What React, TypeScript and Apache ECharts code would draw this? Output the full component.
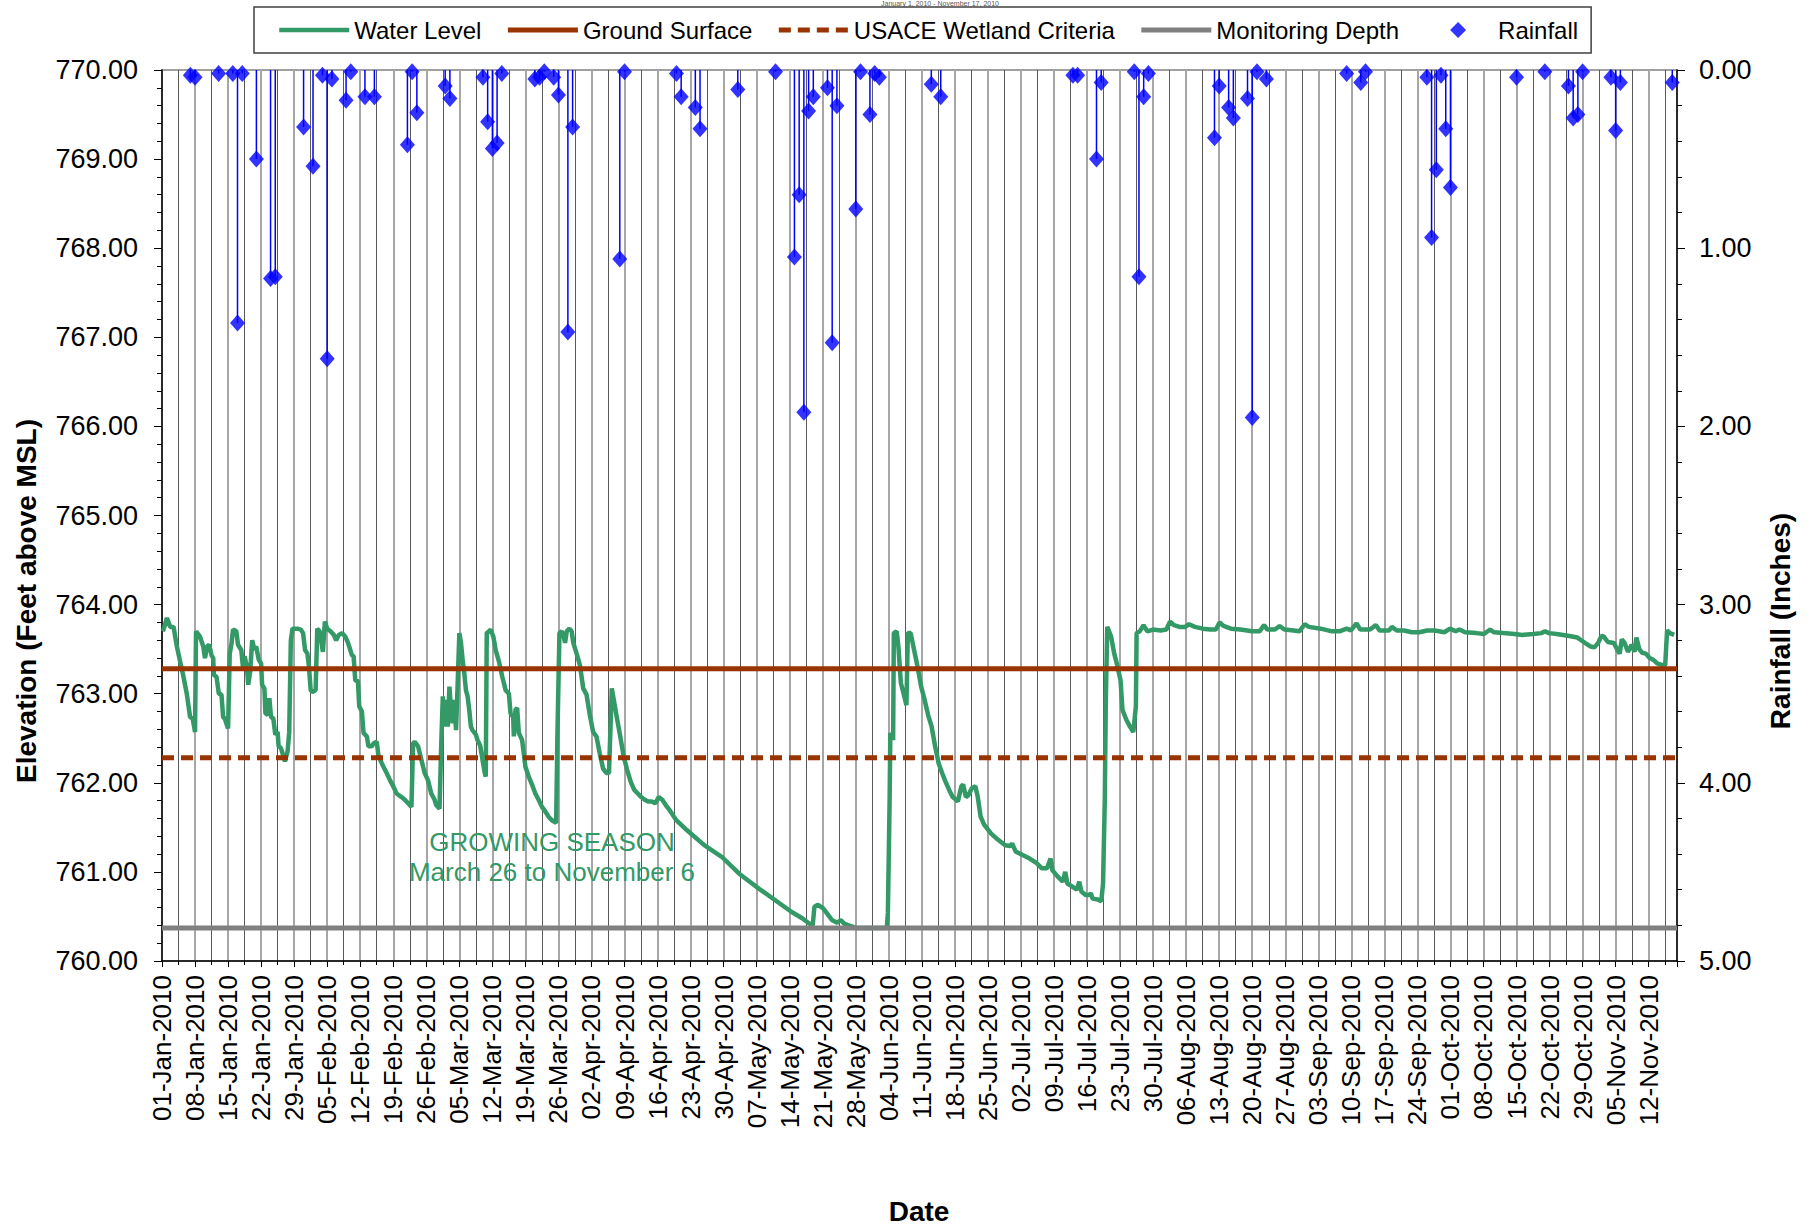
import React, { useEffect, useRef } from 'react';
import * as echarts from 'echarts';

const FONT = '"Liberation Sans", Arial, Helvetica, sans-serif';
const MONTHS = ['Jan', 'Feb', 'Mar', 'Apr', 'May', 'Jun', 'Jul', 'Aug', 'Sep', 'Oct', 'Nov', 'Dec'];
const START_UTC = Date.UTC(2010, 0, 1);
const DAY_MS = 86400000;

// x axis: days since 01-Jan-2010
const xMinDay = 0;
const xMaxDay = 321;
const weekInterval = 7;

const elevMin = 760;
const elevMax = 770;
const rainMin = 0;
const rainMax = 5;

const groundSurface = 763.28;
const usaceCriteria = 762.28;
const monitoringDepth = 760.37;

const titleText = 'January 1, 2010 - November 17, 2010';
const seasonLine1 = 'GROWING SEASON';
const seasonLine2 = 'March 26 to November 6';

// Water level (days since 01-Jan-2010, feet above MSL)
const waterDay = [
  0.2, 1.05, 1.75, 2.45, 3.15, 3.85, 4.55, 5.25, 5.95, 6.51, 7.0, 7.21, 8.05, 8.75, 9.1, 9.59, 10.01, 10.5, 10.85, 10.99,
  11.55, 12.04, 12.6, 12.95, 13.3, 14.0, 14.35, 14.7, 15.05, 15.75, 16.1, 16.8, 17.15, 17.5, 17.99, 18.27, 18.69, 19.11, 19.6, 19.95,
  20.51, 21.0, 21.21, 21.7, 21.91, 22.4, 22.75, 23.1, 23.59, 24.01, 24.5, 24.71, 25.2, 25.55, 26.04, 26.6, 26.95, 27.3, 27.65, 28.7,
  29.4, 29.89, 30.31, 30.8, 31.15, 31.5, 31.85, 32.55, 32.9, 33.39, 33.81, 34.09, 34.51, 35.0, 35.7, 36.4, 36.89, 37.45, 38.15, 38.85,
  39.41, 39.9, 40.25, 40.6, 40.95, 41.51, 41.79, 42.35, 42.7, 43.4, 43.75, 44.45, 44.8, 45.5, 45.85, 46.55, 47.11, 47.6, 48.3, 49.0,
  49.7, 50.75, 51.45, 52.15, 52.85, 53.2, 53.55, 54.25, 54.95, 55.65, 56.35, 57.05, 57.75, 58.1, 58.8, 59.15, 59.5, 59.85, 60.2, 60.55,
  60.9, 61.25, 61.6, 61.95, 62.3, 62.65, 63.0, 63.35, 63.7, 64.05, 64.4, 64.75, 65.1, 65.45, 65.8, 66.5, 66.85, 67.41, 67.9, 68.39,
  68.6, 68.81, 69.3, 69.65, 70.21, 70.7, 71.4, 72.1, 72.8, 73.5, 73.85, 74.41, 74.55, 74.9, 75.25, 75.6, 76.3, 77.0, 77.7, 78.4,
  79.1, 79.8, 80.5, 81.2, 81.9, 82.6, 83.51, 83.79, 84.21, 84.7, 85.05, 85.4, 85.75, 86.31, 86.8, 87.15, 87.85, 88.55, 89.25, 89.95,
  90.65, 91.35, 92.05, 92.75, 93.45, 94.15, 94.71, 95.3, 96.35, 97.09, 97.84, 98.58, 99.32, 100.06, 100.8, 101.54, 102.28, 103.0, 103.77, 104.5,
  105.25, 106.0, 106.73, 107.47, 108.21, 108.96, 111.18, 114.89, 118.59, 122.3, 126.0, 129.71, 133.42, 135.64, 137.12, 137.87, 138.24, 138.98, 140.09, 140.83,
  141.94, 143.05, 143.8, 144.54, 146.02, 147.13, 153.58, 153.8, 154.17, 154.32, 154.91, 155.06, 155.66, 156.03, 156.55, 157.14, 157.73, 158.03, 158.62, 159.36,
  160.1, 160.85, 161.59, 162.33, 163.07, 163.81, 164.55, 165.29, 166.03, 166.78, 167.52, 168.26, 168.63, 169.37, 169.74, 170.33, 170.85, 171.59, 172.34, 172.85,
  173.45, 174.19, 175.67, 177.15, 178.64, 179.75, 180.12, 180.86, 182.34, 183.83, 185.31, 186.42, 187.53, 188.27, 188.64, 189.75, 190.86, 191.38, 191.83, 192.72,
  193.83, 194.35, 194.8, 195.69, 196.43, 196.8, 197.17, 198.28, 199.02, 199.39, 199.76, 199.98, 200.28, 201.1, 201.76, 202.3, 203.1, 203.5, 204.3, 205.1,
  205.8, 206.35, 206.5, 207.16, 207.97, 208.77, 209.98, 211.6, 212.8, 213.6, 214.4, 215.6, 216.8, 217.6, 218.85, 220.5, 222.1, 223.3, 224.1, 224.9,
  226.5, 228.5, 230.95, 232.6, 233.5, 234.2, 235.8, 236.8, 237.8, 239.8, 241.0, 242.1, 243.0, 245.5, 247.9, 249.5, 251.0, 251.9, 253.1, 253.9,
  255.95, 257.2, 257.97, 260.0, 260.6, 261.6, 263.2, 264.8, 266.4, 268.05, 269.66, 271.7, 272.9, 274.1, 274.9, 276.1, 278.5, 280.1, 281.4, 282.2,
  284.2, 286.6, 288.2, 290.6, 292.25, 293.05, 293.85, 295.5, 297.9, 299.9, 300.7, 301.5, 302.7, 303.5, 304.3, 305.0, 305.5, 306.35, 307.6, 308.4,
  308.85, 309.3, 309.9, 310.6, 311.4, 312.0, 312.4, 313.0, 313.6, 314.4, 315.2, 316.0, 316.8, 317.9, 318.5, 318.9, 319.5, 320.4,
];
const waterLevel = [
  763.7, 763.85, 763.75, 763.75, 763.53, 763.36, 763.19, 763.0, 762.74, 762.72, 762.57, 763.7, 763.64, 763.53, 763.4, 763.53, 763.55, 763.43, 763.4, 763.21,
  763.19, 763.0, 762.99, 762.74, 762.72, 762.61, 763.45, 763.55, 763.72, 763.7, 763.55, 763.49, 763.3, 763.42, 763.3, 763.1, 763.25, 763.6, 763.49, 763.53,
  763.38, 763.34, 763.1, 763.06, 762.78, 762.76, 762.95, 762.74, 762.72, 762.54, 762.57, 762.41, 762.39, 762.33, 762.24, 762.35, 762.56, 763.6, 763.73, 763.73,
  763.72, 763.68, 763.49, 763.45, 763.3, 763.04, 763.02, 763.04, 763.73, 763.7, 763.57, 763.47, 763.81, 763.73, 763.7, 763.66, 763.6, 763.66, 763.68, 763.64,
  763.57, 763.49, 763.43, 763.42, 763.15, 763.14, 762.86, 762.8, 762.56, 762.52, 762.41, 762.41, 762.44, 762.46, 762.31, 762.22, 762.16, 762.11, 762.03, 761.96,
  761.88, 761.84, 761.81, 761.77, 761.73, 762.44, 762.46, 762.41, 762.26, 762.11, 762.03, 761.88, 761.81, 761.75, 761.71, 762.41, 762.97, 762.63, 762.93, 762.63,
  763.08, 762.82, 762.67, 762.93, 762.59, 763.12, 763.68, 763.57, 763.38, 763.23, 763.04, 762.97, 762.82, 762.63, 762.59, 762.54, 762.48, 762.42, 762.26, 762.11,
  762.07, 763.68, 763.7, 763.72, 763.64, 763.49, 763.36, 763.19, 763.04, 763.0, 762.78, 762.74, 762.52, 762.82, 762.84, 762.56, 762.48, 762.18, 762.07, 761.98,
  761.88, 761.81, 761.73, 761.68, 761.62, 761.58, 761.55, 762.56, 763.68, 763.7, 763.66, 763.57, 763.7, 763.73, 763.7, 763.57, 763.45, 763.32, 763.06, 762.99,
  762.76, 762.57, 762.52, 762.33, 762.16, 762.11, 762.11, 763.06, 762.74, 762.52, 762.29, 762.14, 762.01, 761.92, 761.88, 761.84, 761.81, 761.79, 761.79, 761.77,
  761.84, 761.81, 761.75, 761.7, 761.64, 761.58, 761.47, 761.3, 761.17, 760.98, 760.83, 760.69, 760.55, 760.48, 760.42, 760.4, 760.61, 760.63, 760.59, 760.54,
  760.46, 760.43, 760.46, 760.42, 760.39, 760.37, 760.37, 760.54, 761.81, 762.56, 762.48, 763.68, 763.7, 763.53, 763.12, 763.0, 762.87, 763.68, 763.68, 763.49,
  763.3, 763.08, 762.93, 762.76, 762.63, 762.41, 762.22, 762.11, 762.01, 761.92, 761.84, 761.81, 761.79, 761.96, 761.98, 761.84, 761.86, 761.94, 761.96, 761.84,
  761.62, 761.53, 761.43, 761.36, 761.3, 761.29, 761.32, 761.23, 761.19, 761.15, 761.1, 761.04, 761.04, 761.15, 761.02, 760.95, 760.89, 761.0, 760.87, 760.84,
  760.8, 760.89, 760.78, 760.74, 760.74, 760.76, 760.7, 760.69, 760.67, 760.87, 761.81, 762.93, 763.75, 763.64, 763.45, 763.34, 763.15, 762.82, 762.71, 762.63,
  762.57, 762.86, 763.68, 763.7, 763.77, 763.7, 763.72, 763.71, 763.72, 763.81, 763.77, 763.75, 763.75, 763.78, 763.75, 763.73, 763.72, 763.72, 763.8, 763.76,
  763.73, 763.72, 763.7, 763.7, 763.77, 763.72, 763.72, 763.76, 763.72, 763.71, 763.7, 763.78, 763.75, 763.73, 763.7, 763.7, 763.73, 763.71, 763.79, 763.72,
  763.72, 763.77, 763.71, 763.71, 763.75, 763.71, 763.71, 763.69, 763.69, 763.71, 763.71, 763.69, 763.73, 763.7, 763.72, 763.69, 763.68, 763.67, 763.72, 763.69,
  763.68, 763.67, 763.66, 763.67, 763.68, 763.7, 763.68, 763.67, 763.65, 763.63, 763.6, 763.57, 763.53, 763.52, 763.57, 763.65, 763.64, 763.58, 763.57, 763.49,
  763.45, 763.61, 763.57, 763.47, 763.55, 763.47, 763.63, 763.5, 763.46, 763.45, 763.4, 763.38, 763.34, 763.32, 763.32, 763.71, 763.68, 763.66,
];

// Daily rainfall (days since 01-Jan-2010, inches)
const rainDay = [
  6, 7, 12, 15, 16, 17, 20, 23, 24, 30, 32, 34, 35, 36, 39, 40, 43, 45, 52, 53,
  54, 60, 61, 68, 69, 70, 71, 72, 79, 80, 81, 83, 84, 86, 87, 97, 98, 109, 110, 113,
  114, 122, 130, 134, 135, 136, 137, 138, 141, 142, 143, 147, 148, 150, 151, 152, 163, 165, 193, 194,
  198, 199, 206, 207, 208, 209, 223, 224, 226, 227, 230, 231, 232, 234, 251, 254, 255, 268, 269, 270,
  271, 272, 273, 287, 293, 298, 299, 300, 301, 307, 308, 309, 320,
];
const rainInches = [
  0.03, 0.04, 0.02, 0.02, 1.42, 0.02, 0.5, 1.17, 1.16, 0.32, 0.54, 0.03, 1.62, 0.05, 0.17, 0.01, 0.15, 0.15, 0.42, 0.01,
  0.24, 0.09, 0.16, 0.04, 0.29, 0.44, 0.41, 0.02, 0.05, 0.04, 0.01, 0.04, 0.14, 1.47, 0.32, 1.06, 0.01, 0.02, 0.15, 0.21,
  0.33, 0.11, 0.01, 1.05, 0.7, 1.92, 0.23, 0.15, 0.1, 1.53, 0.2, 0.78, 0.01, 0.25, 0.02, 0.04, 0.08, 0.15, 0.03, 0.03,
  0.5, 0.07, 0.01, 1.16, 0.15, 0.02, 0.38, 0.09, 0.21, 0.27, 0.16, 1.95, 0.01, 0.05, 0.02, 0.07, 0.01, 0.04, 0.94, 0.56,
  0.03, 0.33, 0.66, 0.04, 0.01, 0.09, 0.27, 0.25, 0.01, 0.04, 0.34, 0.07, 0.07,
];

function fmtDate(day: number): string {
  const dt = new Date(START_UTC + Math.round(day) * DAY_MS);
  const dd = String(dt.getUTCDate()).padStart(2, '0');
  return `${dd}-${MONTHS[dt.getUTCMonth()]}-${dt.getUTCFullYear()}`;
}

// Legend key for the marker-only series: a diamond centred in a full-width key.
const DIAMOND_KEY = 'path://M0,8 L0.01,8 Z M27,8 L35,0 L43,8 L35,16 Z M69.99,8 L70,8 Z';

function buildOption(): any {
  const waterData = waterDay.map((d, i) => [d, waterLevel[i]]);
  const rainData = rainDay.map((d, i) => [d, rainInches[i]]);
  const flat = (v: number) => [[xMinDay, v], [xMaxDay, v]];
  const lineOnly = { itemStyle: { opacity: 0 } };

  return {
    animation: false,
    backgroundColor: '#ffffff',
    textStyle: { fontFamily: FONT },
    grid: {
      left: 162, right: 135, top: 70, bottom: 266,
      show: true, borderColor: '#a0a0a0', borderWidth: 2, backgroundColor: 'transparent',
    },
    legend: {
      data: [
        { name: 'Water Level', ...lineOnly },
        { name: 'Ground Surface', ...lineOnly },
        { name: 'USACE Wetland Criteria', ...lineOnly },
        { name: 'Monitoring Depth', ...lineOnly },
        { name: 'Rainfall', icon: DIAMOND_KEY },
      ],
      left: 254, top: 7,
      padding: [11, 13, 11, 23],
      itemWidth: 70, itemHeight: 16, itemGap: 24,
      backgroundColor: '#ffffff', borderColor: '#404040', borderWidth: 1.5,
      textStyle: { fontSize: 24, color: '#000', fontFamily: FONT },
      lineStyle: { width: 'inherit' },
      selectedMode: false,
      z: 20,
    },
    xAxis: {
      type: 'value', min: xMinDay, max: xMaxDay, interval: weekInterval,
      axisLine: { show: true, onZero: false, lineStyle: { color: '#000', width: 1.5 } },
      axisTick: { show: true, length: 6, lineStyle: { color: '#000' } },
      minorTick: { show: true, splitNumber: 2, length: 4, lineStyle: { color: '#000' } },
      splitLine: { show: true, lineStyle: { color: '#a6a6a6', width: 2 } },
      minorSplitLine: { show: true, lineStyle: { color: '#595959', width: 1 } },
      axisLabel: {
        rotate: 90, margin: 14, fontSize: 26, color: '#000', fontFamily: FONT,
        showMaxLabel: false,
        formatter: (v: number) => (v % weekInterval === 0 ? fmtDate(v) : ''),
      },
    },
    yAxis: [
      {
        type: 'value', min: elevMin, max: elevMax, interval: 1, position: 'left',
        axisLine: { show: true, onZero: false, lineStyle: { color: '#000', width: 1.5 } },
        axisTick: { show: true, length: 8, lineStyle: { color: '#000' } },
        minorTick: { show: true, splitNumber: 5, length: 5, lineStyle: { color: '#000' } },
        splitLine: { show: false },
        axisLabel: { margin: 24, fontSize: 27, color: '#000', fontFamily: FONT, formatter: (v: number) => v.toFixed(2) },
      },
      {
        type: 'value', min: rainMin, max: rainMax, interval: 1, position: 'right', inverse: true,
        axisLine: { show: true, onZero: false, lineStyle: { color: '#000', width: 1.5 } },
        axisTick: { show: true, length: 8, lineStyle: { color: '#000' } },
        minorTick: { show: true, splitNumber: 5, length: 5, lineStyle: { color: '#000' } },
        splitLine: { show: false },
        axisLabel: { margin: 22, fontSize: 27, color: '#000', fontFamily: FONT, formatter: (v: number) => v.toFixed(2) },
      },
    ],
    graphic: [
      {
        type: 'text', x: 940, y: 0, z: 0,
        style: { text: titleText, fontSize: 7, fontFamily: FONT, fill: '#595959', align: 'center', verticalAlign: 'top' },
      },
      {
        type: 'text', x: 26, y: 601, rotation: Math.PI / 2, z: 10,
        style: { text: 'Elevation (Feet above MSL)', fontSize: 28, fontWeight: 'bold', fontFamily: FONT, fill: '#000', align: 'center', verticalAlign: 'middle' },
      },
      {
        type: 'text', x: 1780, y: 621, rotation: Math.PI / 2, z: 10,
        style: { text: 'Rainfall (Inches)', fontSize: 28, fontWeight: 'bold', fontFamily: FONT, fill: '#000', align: 'center', verticalAlign: 'middle' },
      },
      {
        type: 'text', x: 919, y: 1211, z: 10,
        style: { text: 'Date', fontSize: 28, fontWeight: 'bold', fontFamily: FONT, fill: '#000', align: 'center', verticalAlign: 'middle' },
      },
      {
        type: 'text', x: 552, y: 842, z: 10,
        style: { text: seasonLine1, fontSize: 26, fontFamily: FONT, fill: '#339966', align: 'center', verticalAlign: 'middle' },
      },
      {
        type: 'text', x: 552, y: 872, z: 10,
        style: { text: seasonLine2, fontSize: 26, fontFamily: FONT, fill: '#339966', align: 'center', verticalAlign: 'middle' },
      },
    ],
    series: [
      {
        name: 'Water Level', type: 'line', yAxisIndex: 0, data: waterData,
        symbol: 'none', showSymbol: false,
        lineStyle: { color: '#339966', width: 4.5 }, itemStyle: { color: '#339966' }, z: 2,
      },
      {
        name: 'Ground Surface', type: 'line', yAxisIndex: 0, data: flat(groundSurface),
        symbol: 'none', lineStyle: { color: '#993300', width: 5 }, itemStyle: { color: '#993300' }, z: 3,
      },
      {
        name: 'USACE Wetland Criteria', type: 'line', yAxisIndex: 0, data: flat(usaceCriteria),
        symbol: 'none', lineStyle: { color: '#993300', width: 5, type: [12, 7] }, itemStyle: { color: '#993300' }, z: 3,
      },
      {
        name: 'Monitoring Depth', type: 'line', yAxisIndex: 0, data: flat(monitoringDepth),
        symbol: 'none', lineStyle: { color: '#808080', width: 5 }, itemStyle: { color: '#808080' }, z: 3,
      },
      {
        name: 'Rainfall stems', type: 'custom', yAxisIndex: 1, data: rainData, z: 5, silent: true,
        renderItem: (_params: any, api: any) => {
          const x = api.value(0);
          const r = api.value(1);
          const p0 = api.coord([x, 0]);
          const p1 = api.coord([x, r]);
          return {
            type: 'line',
            shape: { x1: p0[0], y1: p0[1], x2: p1[0], y2: p1[1] },
            style: { stroke: '#0000ff', lineWidth: 1.5 },
          };
        },
      },
      {
        name: 'Rainfall', type: 'scatter', yAxisIndex: 1, data: rainData,
        symbol: 'diamond', symbolSize: [15, 17],
        itemStyle: { color: '#0000ff' }, z: 6,
      },
    ],
  };
}

export default function App() {
  const ref = useRef<HTMLDivElement>(null);
  useEffect(() => {
    if (!ref.current) return;
    const chart = echarts.init(ref.current, undefined, { renderer: 'svg' });
    chart.setOption(buildOption());
    return () => chart.dispose();
  }, []);
  return (
    <div
      ref={ref}
      style={{ position: 'absolute', left: 0, top: 0, width: 1812, height: 1227, background: '#fff' }}
    />
  );
}
